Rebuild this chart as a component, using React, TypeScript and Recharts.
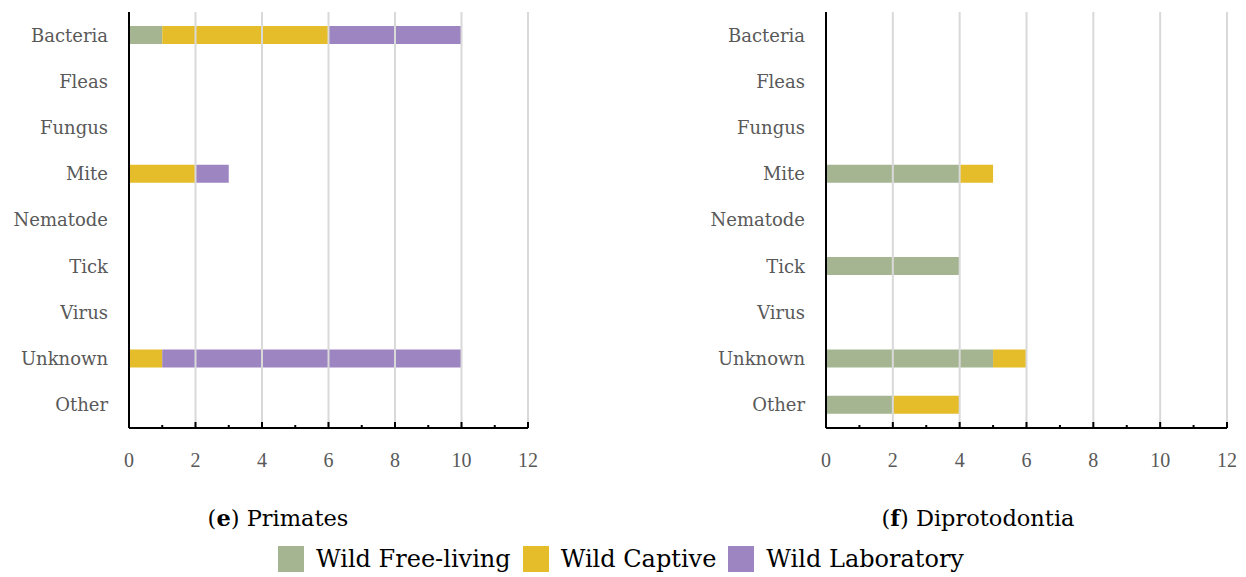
import React from 'react';
import { BarChart, Bar, XAxis, YAxis, ReferenceLine } from 'recharts';

const categories = ['Bacteria', 'Fleas', 'Fungus', 'Mite', 'Nematode', 'Tick', 'Virus', 'Unknown', 'Other'];
const seriesNames = ['Wild Free-living', 'Wild Captive', 'Wild Laboratory'];
const seriesColors = ['#A5B592', '#E5BC2A', '#9D85C2'];
const xTicks = [0, 1, 2, 3, 4, 5, 6, 7, 8, 9, 10, 11, 12];
const gridValues = [2, 4, 6, 8, 10, 12];

// (e) Primates
const primatesFree = [1, 0, 0, 0, 0, 0, 0, 0, 0];
const primatesCaptive = [5, 0, 0, 2, 0, 0, 0, 1, 0];
const primatesLab = [4, 0, 0, 1, 0, 0, 0, 9, 0];

// (f) Diprotodontia
const diproFree = [0, 0, 0, 4, 0, 4, 0, 5, 2];
const diproCaptive = [0, 0, 0, 1, 0, 0, 0, 1, 2];
const diproLab = [0, 0, 0, 0, 0, 0, 0, 0, 0];

const buildRows = (free: number[], captive: number[], lab: number[]) =>
  categories.map((name, i) => ({ name, free: free[i], captive: captive[i], lab: lab[i] }));

const seriesKeys = ['free', 'captive', 'lab'];

const XTick = (props: any) => {
  const { x, y, payload } = props;
  const v = payload.value;
  const major = v % 2 === 0;
  return (
    <g>
      {v !== 0 && (
        <line x1={x} x2={x} y1={y} y2={y - (major ? 6 : 3)} stroke="#000" strokeWidth={2} />
      )}
      {major && (
        <text x={x} y={y + 32} dy="0.355em" textAnchor="middle" fill="#595959"
          style={{ fontFamily: '"Liberation Serif", serif', fontSize: 20 }}>
          {v}
        </text>
      )}
    </g>
  );
};

const Panel = ({ rows, left, rightMargin }: { rows: any[]; left: number; rightMargin: number }) => (
  <div style={{ position: 'absolute', left, top: 0 }}>
    <BarChart
      width={545}
      height={480}
      data={rows}
      layout="vertical"
      margin={{ top: 12, right: rightMargin, bottom: 12, left: 0 }}
      barSize={18}
    >
      {gridValues.map(v => (
        <ReferenceLine key={v} x={v} stroke="#D9D9D9" strokeWidth={2} />
      ))}
      <XAxis
        type="number"
        domain={[0, 12]}
        ticks={xTicks}
        interval={0}
        height={40}
        tickSize={0}
        tickMargin={0}
        tickLine={false}
        axisLine={{ stroke: '#000', strokeWidth: 2 }}
        tick={<XTick />}
      />
      <YAxis
        type="category"
        dataKey="name"
        width={129}
        tickSize={0}
        tickMargin={21}
        tickLine={false}
        interval={0}
        axisLine={{ stroke: '#000', strokeWidth: 2 }}
        tick={{ fill: '#595959', fontSize: 18, fontFamily: '"DejaVu Serif", serif' }}
      />
      {seriesKeys.map((k, i) => (
        <Bar key={k} dataKey={k} stackId="a" fill={seriesColors[i]} isAnimationActive={false} />
      ))}
    </BarChart>
  </div>
);

const captionStyle: React.CSSProperties = {
  position: 'absolute',
  top: 505,
  fontFamily: '"DejaVu Serif", serif',
  fontSize: 22.5,
  color: '#000',
  whiteSpace: 'nowrap',
  transform: 'translateX(-50%)',
};

export default function App() {
  return (
    <div style={{ position: 'absolute', left: 0, top: 0, width: 1246, height: 577, background: '#fff' }}>
      <Panel rows={buildRows(primatesFree, primatesCaptive, primatesLab)} left={0} rightMargin={17} />
      <Panel rows={buildRows(diproFree, diproCaptive, diproLab)} left={697} rightMargin={15} />
      <div style={{ ...captionStyle, left: 278 }}>
        (<b>e</b>) Primates
      </div>
      <div style={{ ...captionStyle, left: 978 }}>
        (<b>f</b>) Diprotodontia
      </div>
      <div
        style={{
          position: 'absolute',
          left: 278,
          top: 545,
          display: 'flex',
          alignItems: 'center',
          fontFamily: '"DejaVu Serif", serif',
          fontSize: 24,
          color: '#000',
          whiteSpace: 'nowrap',
        }}
      >
        {seriesNames.map((n, i) => (
          <div key={n} style={{ display: 'flex', alignItems: 'center', marginRight: 12 }}>
            <span style={{ display: 'inline-block', width: 26, height: 26, background: seriesColors[i], marginRight: 12 }} />
            <span>{n}</span>
          </div>
        ))}
      </div>
    </div>
  );
}
